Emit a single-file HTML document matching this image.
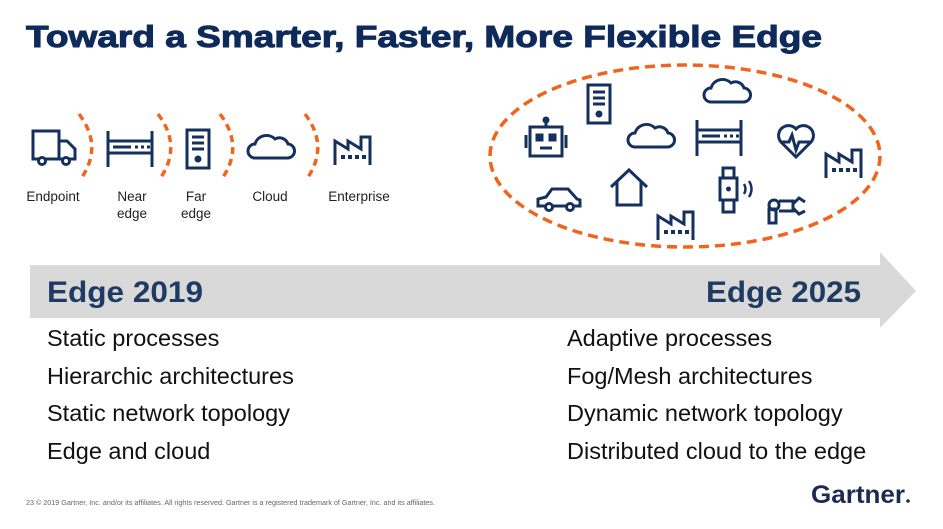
<!DOCTYPE html>
<html><head><meta charset="utf-8"><style>
html,body{margin:0;padding:0;background:#fff;}
body{width:943px;height:529px;overflow:hidden;position:relative;font-family:"Liberation Sans",Arial,sans-serif;}
</style></head><body>
<svg width="943" height="529" viewBox="0 0 943 529" xmlns="http://www.w3.org/2000/svg" style="position:absolute;left:0;top:0">
<defs>
<g id="truck" fill="none" stroke="#14305e" stroke-width="3">
 <path d="M0 0 H26 V28 H0 Z"/><path d="M26 10 H34 L42 18 V28 H26"/>
 <circle cx="9" cy="30" r="3.5" fill="#fff"/><circle cx="33" cy="30" r="3.5" fill="#fff"/>
</g>
<g id="rack" fill="none" stroke="#14305e" stroke-width="3">
 <path d="M1 0 V36 M45 0 V36 M1 10 H45 M1 22 H45"/>
 <path d="M6 16 H24" stroke-width="3"/><path d="M28 16 h3 M34 16 h3 M40 16 h3"/>
</g>
<g id="server" fill="none" stroke="#14305e" stroke-width="3">
 <rect x="0" y="0" width="22" height="38"/><path d="M5 7 H17 M5 13 H17 M5 19 H17"/>
 <circle cx="11" cy="29" r="2" fill="#14305e"/>
</g>
<g id="cloud" fill="none" stroke="#14305e" stroke-width="3">
 <path d="M8 27 H40 A7 7 0 0 0 41 13 A9 9 0 0 0 28 8 A12 12 0 0 0 8 13 A7 7 0 0 0 8 27 Z"/>
</g>
<g id="factory" fill="none" stroke="#14305e" stroke-width="3">
 <path d="M1 32 V8 L14 16 V8 L27 16 V4 H36 V32"/>
 <path d="M7 24 h4 M14 24 h4 M21 24 h4 M28 24 h4" stroke-width="4"/>
</g>
</defs>

<text x="26" y="47" font-size="31" font-weight="bold" fill="#0e2a5a" textLength="796" lengthAdjust="spacingAndGlyphs" stroke="#0e2a5a" stroke-width="1">Toward a Smarter, Faster, More Flexible Edge</text>

<use href="#truck" x="33" y="131"/>
<use href="#rack" x="107" y="131"/>
<use href="#server" x="187" y="130"/>
<use href="#cloud" x="247" y="131"/>
<use href="#factory" x="334" y="133"/>
<g fill="none" stroke="#f0641e" stroke-width="3.5" stroke-dasharray="7,5">
 <path d="M79 114 Q104 147 80 180"/>
 <path d="M158 114 Q183 147 159 180"/>
 <path d="M220 114 Q245 147 221 180"/>
 <path d="M305 114 Q330 147 306 180"/>
</g>
<g font-size="13.5" fill="#222" text-anchor="middle">
 <text x="53" y="201">Endpoint</text>
 <text x="132" y="201">Near</text><text x="132" y="218">edge</text>
 <text x="196" y="201">Far</text><text x="196" y="218">edge</text>
 <text x="270" y="201">Cloud</text>
 <text x="359" y="201">Enterprise</text>
</g>

<ellipse cx="685" cy="156" rx="195" ry="91" fill="none" stroke="#f0641e" stroke-width="3.5" stroke-dasharray="10,6"/>
<g fill="none" stroke="#14305e" stroke-width="3">
 <rect x="530" y="127" width="32" height="29"/><path d="M526 135 V148 M566 135 V148"/>
 <path d="M546 127 V121"/><circle cx="546" cy="120" r="2" fill="#14305e"/>
 <rect x="537" y="135" width="5" height="5" fill="#14305e"/><rect x="550" y="135" width="5" height="5" fill="#14305e"/>
 <path d="M540 148 H552"/>
</g>
<use href="#server" x="588" y="85"/>
<use href="#cloud" x="627" y="120"/>
<use href="#cloud" x="703" y="75"/>
<use href="#rack" x="696" y="120"/>
<g fill="none" stroke="#14305e" stroke-width="3">
 <path d="M796 157 L781 142 A9 9 0 0 1 796 129 A9 9 0 0 1 811 142 Z"/>
 <path d="M780 142 H789 L792 135 L796 150 L799 142 H812"/>
</g>
<use href="#factory" x="825" y="146"/>
<g fill="none" stroke="#14305e" stroke-width="3">
 <path d="M538 206 V199 L546 197 L552 189 H568 L577 199 L580 200 V206 Z"/>
 <circle cx="549" cy="207" r="3.5" fill="#fff"/><circle cx="570" cy="207" r="3.5" fill="#fff"/>
</g>
<g fill="none" stroke="#14305e" stroke-width="3">
 <path d="M611 187 L629 170 L647 187 M617 182 V205 H641 V182"/>
</g>
<g fill="none" stroke="#14305e" stroke-width="3">
 <rect x="720" y="178" width="17" height="22"/><path d="M723 178 V168 H734 V178 M723 200 V212 H734 V200"/>
 <circle cx="728.5" cy="189" r="1" fill="#14305e"/>
 <path d="M744 184 Q747 189 744 194 M749 181 Q754 189 749 197" stroke-width="2.5"/>
</g>
<use href="#factory" x="657" y="208"/>
<g fill="none" stroke="#14305e" stroke-width="3">
 <circle cx="774" cy="205" r="5"/><rect x="769" y="209" width="7" height="14"/>
 <path d="M779 201 H793 V211 H779 M793 204 L799 198 L805 202 M793 208 L799 214 L805 211"/>
</g>

<path d="M30 265 H880 V252 L916 291 L880 328 V318 H30 Z" fill="#d9d9d9"/>
<text x="47" y="302" font-size="30" font-weight="bold" fill="#1f3a63" textLength="156" lengthAdjust="spacingAndGlyphs">Edge 2019</text>
<text x="706" y="302" font-size="30" font-weight="bold" fill="#1f3a63" textLength="155" lengthAdjust="spacingAndGlyphs">Edge 2025</text>

<g font-size="23.5" fill="#111">
 <text x="47" y="346">Static processes</text>
 <text x="47" y="384">Hierarchic architectures</text>
 <text x="47" y="421">Static network topology</text>
 <text x="47" y="459">Edge and cloud</text>
 <text x="567" y="346">Adaptive processes</text>
 <text x="567" y="384">Fog/Mesh architectures</text>
 <text x="567" y="421">Dynamic network topology</text>
 <text x="567" y="459">Distributed cloud to the edge</text>
</g>

<text x="26" y="505" font-size="7" fill="#666" textLength="409" lengthAdjust="spacingAndGlyphs">23   © 2019 Gartner, Inc. and/or its affiliates. All rights reserved. Gartner is a registered trademark of Gartner, Inc. and its affiliates.</text>
<text x="811" y="503" font-size="25" font-weight="bold" fill="#1c2a4f" textLength="94" lengthAdjust="spacingAndGlyphs">Gartner</text>
<circle cx="908" cy="501" r="1.8" fill="#1c2a4f"/>
</svg>
</body></html>
